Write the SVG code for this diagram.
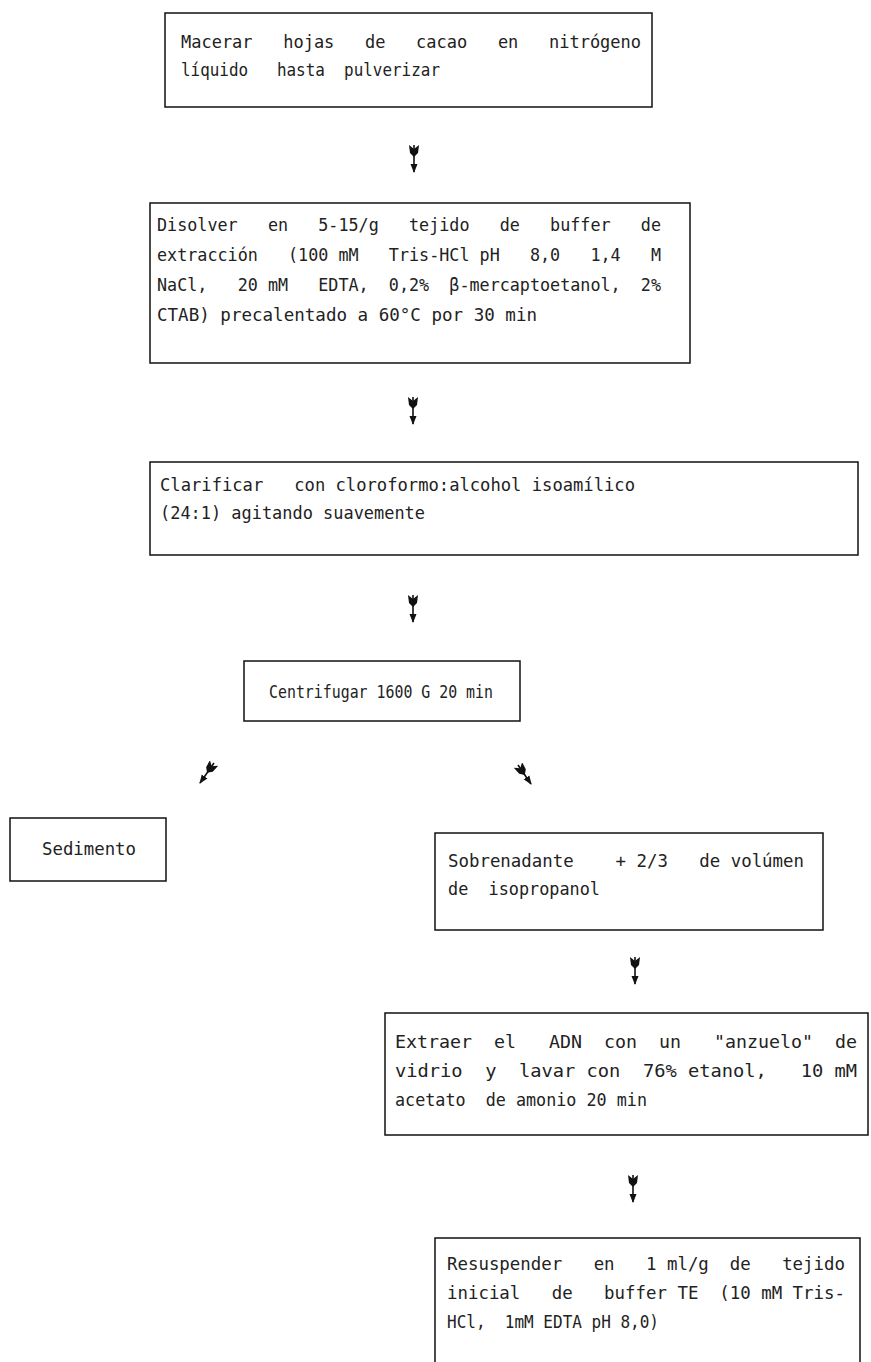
<svg xmlns="http://www.w3.org/2000/svg" width="871" height="1362" viewBox="0 0 871 1362" xml:space="preserve">
<style>
.box{fill:#fff;stroke:#111;stroke-width:1.5}
.t{font-family:"DejaVu Sans Mono","Liberation Mono",monospace;font-size:18px;fill:#222;white-space:pre}
.c{stroke:#111;stroke-width:1.6;fill:none;marker-start:url(#tail);marker-end:url(#head)}
</style>
<defs>
<marker id="head" markerUnits="userSpaceOnUse" viewBox="0 -4 9 8" refX="8" refY="0" markerWidth="9" markerHeight="8" orient="auto"><path d="M0,-3.5 L9,0 L0,3.5 Z" fill="#111"/></marker>
<marker id="tail" markerUnits="userSpaceOnUse" viewBox="0 -5 12 10" refX="0" refY="0" markerWidth="12" markerHeight="10" orient="auto"><path d="M0,-5 L4,0 L0,5 L8,4 L12,0 L8,-4 Z" fill="#111"/></marker>
</defs>
<rect width="871" height="1362" fill="#fff"/>
<g id="connectors">
<path class="c" d="M414,145 L414,172"/>
<path class="c" d="M413,397 L413,424"/>
<path class="c" d="M413,595 L413,622"/>
<path class="c" d="M214,763 L200,783"/>
<path class="c" d="M518,765 L531,784"/>
<path class="c" d="M635,957 L635,984"/>
<path class="c" d="M633,1175 L633,1202"/>
</g>
<g id="n1">
<rect class="box" x="165" y="13" width="487" height="94"/>
<text class="t" x="181" y="48" textLength="460" lengthAdjust="spacingAndGlyphs">Macerar   hojas   de   cacao   en   nitrógeno</text>
<text class="t" x="181" y="76" textLength="259" lengthAdjust="spacingAndGlyphs">líquido   hasta  pulverizar</text>
</g>
<g id="n2">
<rect class="box" x="150" y="203" width="540" height="160"/>
<text class="t" x="157" y="231" textLength="504" lengthAdjust="spacingAndGlyphs">Disolver   en   5-15/g   tejido   de   buffer   de</text>
<text class="t" x="157" y="261" textLength="504" lengthAdjust="spacingAndGlyphs">extracción   (100 mM   Tris-HCl pH   8,0   1,4   M</text>
<text class="t" x="157" y="291" textLength="504" lengthAdjust="spacingAndGlyphs">NaCl,   20 mM   EDTA,  0,2%  β-mercaptoetanol,  2%</text>
<text class="t" x="157" y="321" textLength="380" lengthAdjust="spacingAndGlyphs">CTAB) precalentado a 60°C por 30 min</text>
</g>
<g id="n3">
<rect class="box" x="150" y="462" width="708" height="93"/>
<text class="t" x="160" y="491" textLength="475" lengthAdjust="spacingAndGlyphs">Clarificar   con cloroformo:alcohol isoamílico</text>
<text class="t" x="160" y="519" textLength="265" lengthAdjust="spacingAndGlyphs">(24:1) agitando suavemente</text>
</g>
<g id="n4">
<rect class="box" x="244" y="661" width="276" height="60"/>
<text class="t" x="269" y="698" textLength="224" lengthAdjust="spacingAndGlyphs">Centrifugar 1600 G 20 min</text>
</g>
<g id="n5">
<rect class="box" x="10" y="818" width="156" height="63"/>
<text class="t" x="42" y="855" textLength="94" lengthAdjust="spacingAndGlyphs">Sedimento</text>
</g>
<g id="n6">
<rect class="box" x="435" y="833" width="388" height="97"/>
<text class="t" x="448" y="867" textLength="356" lengthAdjust="spacingAndGlyphs">Sobrenadante    + 2/3   de volúmen</text>
<text class="t" x="448" y="895" textLength="152" lengthAdjust="spacingAndGlyphs">de  isopropanol</text>
</g>
<g id="n7">
<rect class="box" x="385" y="1013" width="483" height="122"/>
<text class="t" x="395" y="1048" textLength="462" lengthAdjust="spacingAndGlyphs">Extraer  el   ADN  con  un   "anzuelo"  de</text>
<text class="t" x="395" y="1077" textLength="462" lengthAdjust="spacingAndGlyphs">vidrio  y  lavar con  76% etanol,   10 mM</text>
<text class="t" x="395" y="1106" textLength="252" lengthAdjust="spacingAndGlyphs">acetato  de amonio 20 min</text>
</g>
<g id="n8">
<rect class="box" x="435" y="1238" width="425" height="130"/>
<text class="t" x="447" y="1270" textLength="398" lengthAdjust="spacingAndGlyphs">Resuspender   en   1 ml/g  de   tejido</text>
<text class="t" x="447" y="1299" textLength="398" lengthAdjust="spacingAndGlyphs">inicial   de   buffer TE  (10 mM Tris-</text>
<text class="t" x="447" y="1328" textLength="212" lengthAdjust="spacingAndGlyphs">HCl,  1mM EDTA pH 8,0)</text>
</g>
</svg>
